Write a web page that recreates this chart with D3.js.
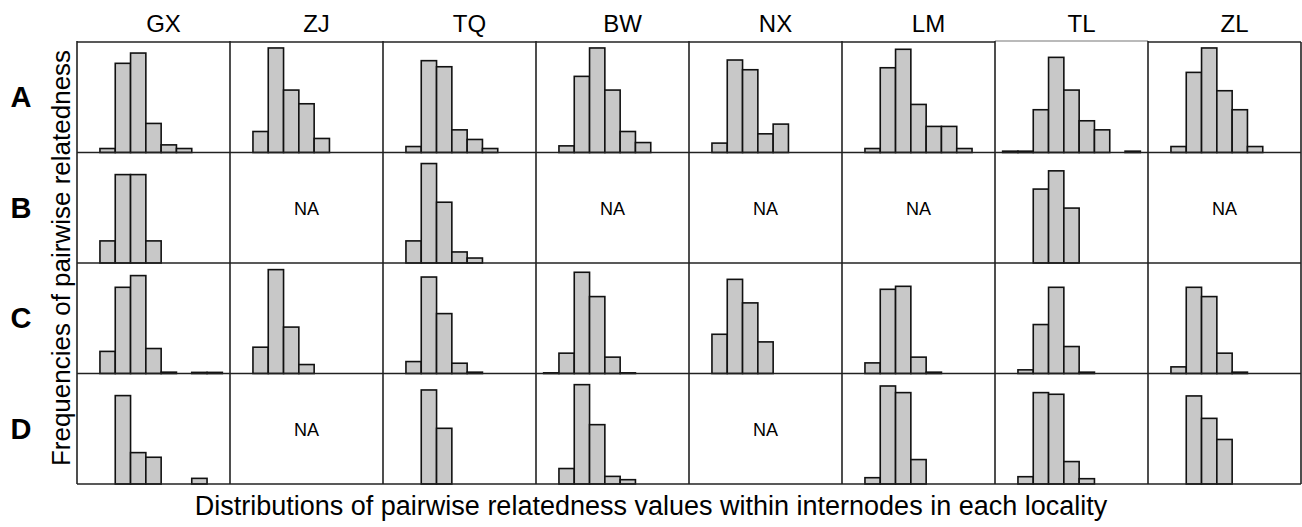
<!DOCTYPE html>
<html><head><meta charset="utf-8">
<script src="https://cdn.jsdelivr.net/npm/d3@7"></script>
<style>html,body{margin:0;padding:0;background:#fff;}svg{display:block;}</style>
</head><body>
<svg id="chart" width="1302" height="527"></svg>
<script>
// ---- data ----
const localities = ["GX", "ZJ", "TQ", "BW", "NX", "LM", "TL", "ZL"];
const rowLabels = ["A", "B", "C", "D"];
const binIndex = [0, 1, 2, 3, 4, 5, 6, 7, 8];
// relative frequency per bin (null = NA)
const rowA = [
  [0, 0.036, 0.807, 0.900, 0.263, 0.069, 0.036, 0, 0],
  [0, 0.190, 0.946, 0.565, 0.441, 0.127, 0, 0, 0],
  [0, 0.054, 0.831, 0.776, 0.205, 0.118, 0.036, 0, 0],
  [0, 0.060, 0.689, 0.946, 0.565, 0.190, 0.090, 0, 0],
  [0, 0.085, 0.837, 0.749, 0.169, 0.257, 0, 0, 0],
  [0, 0.036, 0.767, 0.934, 0.435, 0.236, 0.236, 0.036, 0],
  [0.012, 0.012, 0.387, 0.861, 0.565, 0.287, 0.205, 0, 0.012],
  [0, 0.054, 0.725, 0.946, 0.559, 0.387, 0.054, 0, 0]
];
const rowB = [
  [0, 0.200, 0.800, 0.800, 0.200, 0, 0, 0, 0],
  null,
  [0, 0.200, 0.900, 0.550, 0.100, 0.045, 0, 0, 0],
  null,
  null,
  null,
  [0, 0, 0.669, 0.834, 0.497, 0, 0, 0, 0],
  null
];
const rowC = [
  [0, 0.200, 0.780, 0.886, 0.226, 0.012, 0, 0.010, 0.010],
  [0, 0.238, 0.940, 0.420, 0.081, 0, 0, 0, 0],
  [0, 0.108, 0.873, 0.542, 0.093, 0.012, 0, 0, 0],
  [0.006, 0.184, 0.916, 0.696, 0.148, 0.006, 0, 0, 0],
  [0, 0.355, 0.852, 0.639, 0.286, 0, 0, 0, 0],
  [0, 0.096, 0.762, 0.789, 0.148, 0.012, 0, 0, 0],
  [0, 0.033, 0.443, 0.780, 0.244, 0.012, 0, 0, 0],
  [0, 0.060, 0.780, 0.696, 0.184, 0.012, 0, 0, 0]
];
const rowD = [
  [0, 0, 0.800, 0.284, 0.242, 0, 0, 0.051, 0],
  null,
  [0, 0, 0.851, 0.504, 0, 0, 0, 0, 0],
  [0, 0.140, 0.899, 0.537, 0.069, 0.039, 0, 0, 0],
  null,
  [0, 0.057, 0.887, 0.827, 0.221, 0, 0, 0, 0],
  [0, 0.066, 0.827, 0.812, 0.203, 0.048, 0, 0, 0],
  [0, 0, 0.797, 0.594, 0.403, 0, 0, 0, 0]
];
const rowsData = [rowA, rowB, rowC, rowD];
const xTitle = "Distributions of pairwise relatedness values within internodes in each locality";
const yTitle = "Frequencies of pairwise relatedness";

// ---- layout ----
const svg = d3.select("#chart");
const gridLeft = 77, gridRight = 1301, gridTop = 42, gridBottom = 484;
const colScale = d3.scaleBand().domain(localities).range([gridLeft, gridRight]).padding(0);
const rowScale = d3.scaleBand().domain(rowLabels).range([gridTop, gridBottom]).padding(0);
const cw = colScale.bandwidth(), rh = rowScale.bandwidth();
const x = d3.scaleLinear().domain([-0.5, 9.5]).range([0, cw]);
const y = d3.scaleLinear().domain([0, 1]).range([rh, 0]);
const font = "'Liberation Sans', Arial, sans-serif";

// bars
rowLabels.forEach((r, ri) => {
  localities.forEach((loc, ci) => {
    const vals = rowsData[ri][ci];
    const g = svg.append("g").attr("transform", `translate(${colScale(loc)},${rowScale(r)})`);
    if (vals === null) {
      g.append("text").attr("x", cw / 2).attr("y", rh / 2 + 7)
        .attr("text-anchor", "middle").attr("font-family", font).attr("font-size", 18)
        .text("NA");
      return;
    }
    const bins = binIndex.map(i => ({i, v: vals[i]})).filter(d => d.v > 0);
    g.selectAll("rect").data(bins).join("rect")
      .attr("x", d => x(d.i))
      .attr("width", d => x(d.i + 1) - x(d.i))
      .attr("y", d => y(d.v))
      .attr("height", d => rh - y(d.v))
      .attr("fill", "#c8c8c8").attr("stroke", "#111").attr("stroke-width", 1.6);
  });
});

// grid lines
const gl = svg.append("g").attr("stroke", "#222").attr("stroke-width", 1.6).attr("fill", "none");
rowLabels.forEach(r => {
  if (r === "A") {
    // top border: the TL segment is lighter and thinner
    gl.append("line").attr("x1", gridLeft).attr("x2", colScale("TL")).attr("y1", gridTop).attr("y2", gridTop);
    gl.append("line").attr("x1", colScale("TL")).attr("x2", colScale("ZL")).attr("y1", gridTop - 1).attr("y2", gridTop - 1)
      .attr("stroke", "#777").attr("stroke-width", 1.2);
    gl.append("line").attr("x1", colScale("ZL")).attr("x2", gridRight).attr("y1", gridTop).attr("y2", gridTop);
  } else {
    gl.append("line").attr("x1", gridLeft).attr("x2", gridRight).attr("y1", rowScale(r)).attr("y2", rowScale(r));
  }
});
gl.append("line").attr("x1", gridLeft).attr("x2", gridRight).attr("y1", gridBottom).attr("y2", gridBottom);
localities.forEach(l => {
  gl.append("line").attr("x1", colScale(l)).attr("x2", colScale(l)).attr("y1", gridTop - 1).attr("y2", gridBottom);
});
gl.append("line").attr("x1", gridRight).attr("x2", gridRight).attr("y1", gridTop).attr("y2", gridBottom);

// column labels
svg.selectAll("text.col").data(localities).join("text").attr("class", "col")
  .attr("x", d => colScale(d) + cw / 2 + 10).attr("y", 32)
  .attr("text-anchor", "middle").attr("font-family", font).attr("font-size", 24)
  .text(d => d);

// row labels
svg.selectAll("text.row").data(rowLabels).join("text").attr("class", "row")
  .attr("x", 21).attr("y", d => rowScale(d) + rh / 2 + 10)
  .attr("text-anchor", "middle").attr("font-family", font).attr("font-size", 29).attr("font-weight", "bold")
  .text(d => d);

// axis titles
svg.append("text").attr("transform", `translate(70,258) rotate(-90)`)
  .attr("text-anchor", "middle").attr("font-family", font).attr("font-size", 26).text(yTitle);
svg.append("text").attr("x", 651).attr("y", 515)
  .attr("text-anchor", "middle").attr("font-family", font).attr("font-size", 27).text(xTitle);
</script>
</body></html>
